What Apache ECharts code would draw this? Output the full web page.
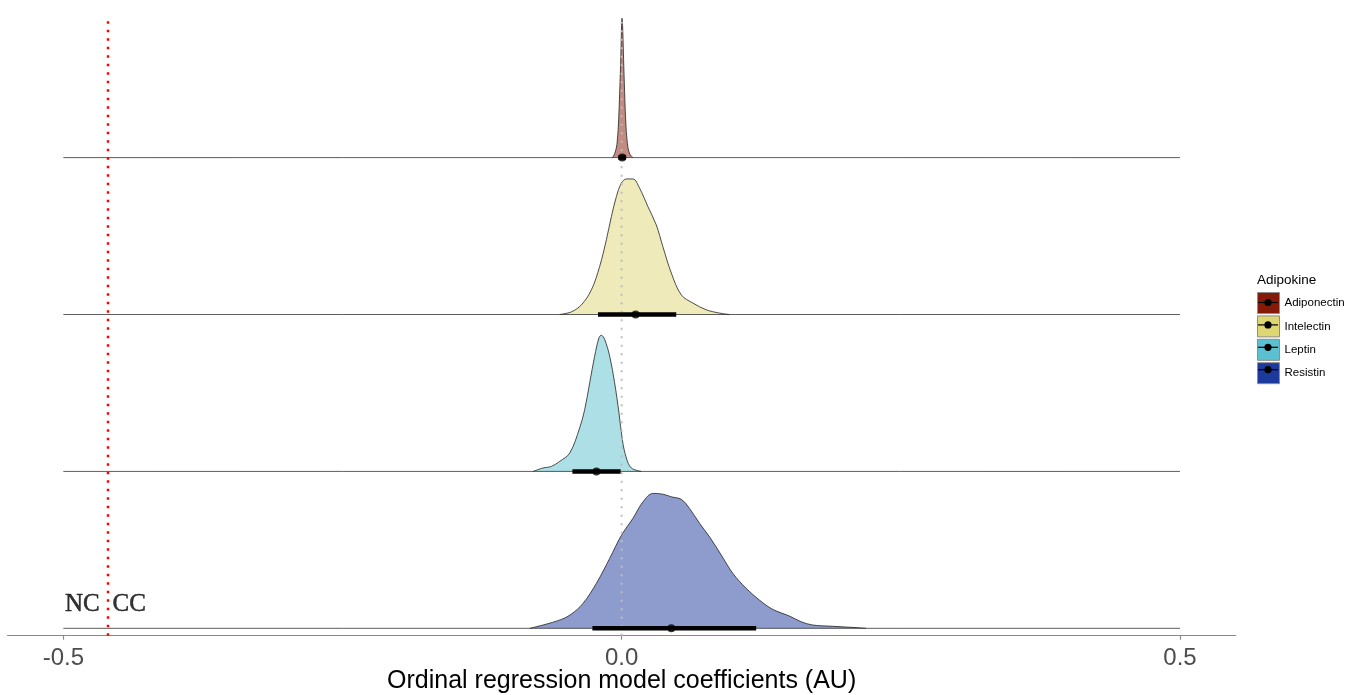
<!DOCTYPE html>
<html><head><meta charset="utf-8">
<script src="https://cdn.jsdelivr.net/npm/echarts@6/dist/echarts.min.js"></script>
<style>html,body{margin:0;padding:0;background:#fff}#c{width:1359px;height:695px}</style>
</head><body><div id="c"></div>
<script>
// Ridge order: bottom (0) to top (3)
const categories = ['Resistin', 'Leptin', 'Intelectin', 'Adiponectin'];
const legendOrder = ['Adiponectin', 'Intelectin', 'Leptin', 'Resistin'];
const colors = { Resistin: '#1C3A9B', Leptin: '#5BC0CF', Intelectin: '#DDD673', Adiponectin: '#851A08' };

const xTicks = [-0.5, 0, 0.5];
const xTickLabels = ['-0.5', '0.0', '0.5'];
const xDomain = [-0.55, 0.55];
const ridgeRange = [-0.5, 0.5];

// density curves (x = coefficient, h = ridge height in units of ridge spacing)
const resistinX = [-0.0823,-0.0704,-0.0539,-0.0450,-0.0346,-0.0226,-0.0107,-0.0003,0.0101,0.0191,0.0280,0.0369,0.0445,0.0534,0.0608,0.0698,0.0787,0.0892,0.0996,0.1115,0.1234,0.1353,0.1503,0.1607,0.1711,0.1890,0.2114,0.2189];
const resistinH = [0,0.021,0.057,0.091,0.159,0.287,0.446,0.592,0.701,0.806,0.86,0.855,0.838,0.822,0.764,0.669,0.583,0.467,0.350,0.255,0.180,0.121,0.078,0.042,0.021,0.013,0.004,0];

const leptinX = [-0.0793,-0.0704,-0.0629,-0.0555,-0.0465,-0.0376,-0.0331,-0.0286,-0.0242,-0.0203,-0.0182,-0.0152,-0.0107,-0.0063,-0.0024,0.0006,0.0042,0.0087,0.0176];
const leptinH = [0,0.022,0.032,0.064,0.117,0.277,0.394,0.565,0.734,0.852,0.868,0.841,0.734,0.565,0.373,0.202,0.086,0.022,0];

const intelectinX = [-0.0555,-0.0450,-0.0360,-0.0271,-0.0197,-0.0137,-0.0092,-0.0047,-0.0003,0.0042,0.0101,0.0161,0.0235,0.0310,0.0369,0.0445,0.0534,0.0638,0.0758,0.0877,0.0966];
const intelectinH = [0,0.017,0.062,0.157,0.306,0.476,0.624,0.752,0.837,0.864,0.864,0.805,0.688,0.571,0.433,0.264,0.125,0.073,0.030,0.009,0];

const adiponectinX = [-0.0083,-0.0063,-0.0042,-0.0027,-0.0018,-0.0009,-0.0003,0.0003,0.0009,0.0015,0.0024,0.0036,0.0051,0.0072,0.0101];
const adiponectinH = [0,0.024,0.085,0.24,0.41,0.601,0.771,0.888,0.834,0.686,0.474,0.24,0.092,0.024,0];

// point estimates and intervals (same order as categories)
const pointEst   = [0.0445, -0.0226, 0.0125, 0.0005];
const intervalLo = [-0.0262, -0.0441, -0.0212, -0.0030];
const intervalHi = [0.1205, -0.0009, 0.0489, 0.0040];

const thresholdX = -0.46;   // red dotted NC / CC boundary
const zeroX = 0;
const annotTexts = ['NC', 'CC'];
const annotX = [-0.483, -0.441];
const annotY = [0.155, 0.155];

const yDomain = [-0.047, 3.93];
const vlineTop = 3.9;

const dens = {
  Resistin: [resistinX, resistinH],
  Leptin: [leptinX, leptinH],
  Intelectin: [intelectinX, intelectinH],
  Adiponectin: [adiponectinX, adiponectinH]
};

const FONT = "'Liberation Sans', Arial, sans-serif";
const series = [];

// densities drawn top first so lower ridges overlay
for (let i = categories.length - 1; i >= 0; i--) {
  const name = categories[i];
  const [xs, hs] = dens[name];
  series.push({
    type: 'line', data: [[ridgeRange[0], i], [ridgeRange[1], i]], symbol: 'none', silent: true, z: 2,
    lineStyle: { color: '#333', width: 0.8 }
  });
  series.push({
    type: 'line', name, data: xs.map((x, k) => [x, i + hs[k]]), color: colors[name],
    itemStyle: { color: colors[name] },
    showSymbol: false, symbol: 'none', smooth: 0.35,
    lineStyle: { color: '#222', width: 0.8 },
    areaStyle: { color: colors[name], opacity: 0.5, origin: i },
    silent: true, z: 2
  });
}

// vertical reference lines
series.push({
  type: 'line', data: [[zeroX, yDomain[0]], [zeroX, vlineTop]], symbol: 'none', silent: true, z: 3,
  lineStyle: { color: '#BDBDBD', width: 2, type: [2, 6.5] }
});
series.push({
  type: 'line', data: [[thresholdX, yDomain[0]], [thresholdX, vlineTop]], symbol: 'none', silent: true, z: 3,
  lineStyle: { color: '#FF0000', width: 2.5, type: [2.5, 6] }
});

// intervals
categories.forEach((c, i) => {
  series.push({
    type: 'line', data: [[intervalLo[i], i], [intervalHi[i], i]], symbol: 'none', silent: true, z: 4,
    lineStyle: { color: '#000', width: 4.5, cap: 'butt' }
  });
});
series.push({
  type: 'scatter', data: categories.map((c, i) => [pointEst[i], i]), symbol: 'circle', symbolSize: 8,
  itemStyle: { color: '#000' }, silent: true, z: 5
});

// NC / CC annotations
series.push({
  type: 'scatter', symbolSize: 2, itemStyle: { color: 'rgba(0,0,0,0)' }, silent: true, z: 6,
  data: annotTexts.map((t, i) => ({ name: t, value: [annotX[i], annotY[i]] })),
  label: { show: true, position: 'inside', formatter: '{b}', color: '#000', fontSize: 25,
           textBorderWidth: 0.5, textBorderColor: '#000',
           fontFamily: "'Liberation Serif', 'DejaVu Serif', serif" }
});

// legend layout
const legLeft = 1257, legTop = 292, keyW = 22, keyH = 21, keyGap = 1.4;
const graphic = [{
  type: 'text', left: legLeft, top: 273,
  style: { text: 'Adipokine', fontSize: 13.5, fontFamily: FONT, fill: '#000' }
}];
legendOrder.forEach((n, i) => {
  const cy = legTop + keyH / 2 + i * (keyH + keyGap);
  graphic.push({ type: 'line', shape: { x1: legLeft + 1, y1: cy, x2: legLeft + keyW - 1, y2: cy },
                 style: { stroke: '#000', lineWidth: 1.2 }, z: 100 });
  graphic.push({ type: 'circle', shape: { cx: legLeft + keyW / 2, cy: cy, r: 3.6 },
                 style: { fill: '#000' }, z: 100 });
});

const option = {
  animation: false,
  backgroundColor: '#fff',
  grid: { left: 7.5, right: 123.2, top: 11.7, bottom: 59.3, outerBoundsMode: 'none' },
  xAxis: {
    type: 'value', min: xDomain[0], max: xDomain[1],
    name: 'Ordinal regression model coefficients (AU)', nameLocation: 'middle', nameGap: 33,
    nameMoveOverlap: false,
    nameTextStyle: { fontSize: 25, color: '#000', fontFamily: FONT },
    axisLine: { show: true, onZero: false, lineStyle: { color: '#8a8a8a', width: 1.2 } },
    axisTick: { show: true, length: 4, customValues: xTicks, lineStyle: { color: '#8a8a8a', width: 1.2 } },
    axisLabel: { show: true, customValues: xTicks, margin: 11, fontSize: 24, color: '#4D4D4D', fontFamily: FONT,
                 formatter: v => { const k = xTicks.findIndex(t => Math.abs(t - v) < 1e-9); return k >= 0 ? xTickLabels[k] : ''; } },
    splitLine: { show: false }
  },
  yAxis: {
    type: 'value', min: yDomain[0], max: yDomain[1], show: false, splitLine: { show: false }
  },
  legend: {
    orient: 'vertical', left: legLeft, top: legTop, padding: 0,
    itemWidth: keyW, itemHeight: keyH, itemGap: keyGap, icon: 'rect',
    selectedMode: false,
    textStyle: { fontSize: 11.5, color: '#000', fontFamily: FONT },
    itemStyle: { borderColor: '#8c8c8c', borderWidth: 1 },
    data: legendOrder.map(n => ({ name: n, icon: 'rect', itemStyle: { color: colors[n], borderColor: '#8c8c8c', borderWidth: 1 } }))
  },
  graphic,
  series
};

const chart = echarts.init(document.getElementById('c'), null, { renderer: 'canvas' });
chart.setOption(option);
</script>
</body></html>
